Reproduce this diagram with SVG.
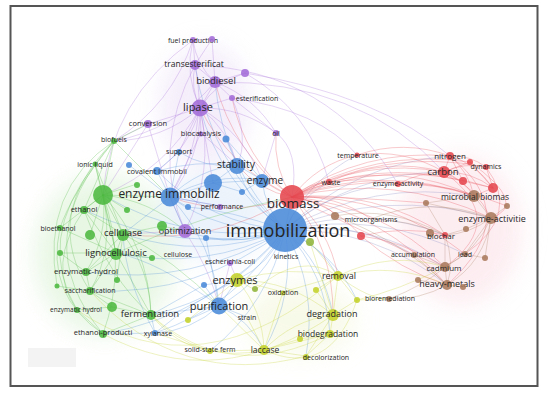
<svg xmlns="http://www.w3.org/2000/svg" width="550" height="394" viewBox="0 0 550 394">
<style>
.e{fill:none;stroke-width:0.8;stroke-opacity:0.36;stroke-linecap:round}
.eb{stroke:#4a8ad8}.er{stroke:#e5474f}.eg{stroke:#4cb840}.ep{stroke:#a36cd8}.ey{stroke:#c4d22a}.ebr{stroke:#a87a5c}.ei{stroke:#7f86bf}
.n circle{stroke:none;fill-opacity:0.88}
.cb{fill:#4a8ad8}.cr{fill:#e5474f}.cg{fill:#4cb840}.cp{fill:#a36cd8}.cy{fill:#c4d22a}.cbr{fill:#a87a5c}.co{fill:#8fb53a}
text{font-family:"Open Sans","DejaVu Sans",sans-serif;fill:#262626;text-anchor:middle;dominant-baseline:central}
</style>
<defs>
<filter id="blur" x="-50%" y="-50%" width="200%" height="200%"><feGaussianBlur stdDeviation="12"/></filter>
</defs>
<rect x="0" y="0" width="550" height="394" fill="#ffffff"/>
<g id="density" filter="url(#blur)" opacity="0.55">
<ellipse cx="105" cy="255" rx="70" ry="80" fill="#d6f0cf"/>
<ellipse cx="205" cy="105" rx="45" ry="60" fill="#ece0f7"/>
<ellipse cx="460" cy="230" rx="62" ry="75" fill="#fbdfe6"/>
<ellipse cx="300" cy="320" rx="55" ry="35" fill="#f3f6d8"/>
<ellipse cx="215" cy="215" rx="55" ry="45" fill="#dde9f8"/>
</g>
<rect x="28" y="348" width="48" height="19" fill="#f3f3f3"/>
<g id="connectors">
<path class="e ei" stroke-width="3" d="M285,230 Q376,228 447,285"/>
<path class="e ei" stroke-width="2.5" d="M285,230 Q372,220 445,267"/>
<path class="e ei" stroke-width="1.5" d="M285,230 Q386,187 491,218"/>
<path class="e ei" stroke-width="1.5" d="M285,230 Q366,204 445,235"/>
<path class="e ei" stroke-width="1.5" d="M285,230 Q373,179 474,196"/>
<path class="e ei" d="M285,230 Q354,172 444,172"/>
<path class="e ei" stroke-width="4" d="M285,230 L292,197"/>
<path class="e eb" stroke-width="3" d="M285,230 Q266,280 219,306"/>
<path class="e eb" stroke-width="2.5" d="M285,230 Q270,264 237,280"/>
<path class="e eb" stroke-width="3" d="M285,230 Q222,234 170,197"/>
<path class="e eb" stroke-width="2" d="M285,230 Q249,206 237,165"/>
<path class="e eb" stroke-width="1.5" d="M285,230 Q220,184 200,108"/>
<path class="e eb" d="M285,230 Q223,169 215,82"/>
<path class="e eb" stroke-width="1.5" d="M285,230 Q205,261 123,234"/>
<path class="e eb" stroke-width="1.5" d="M285,230 Q205,272 116,253"/>
<path class="e eb" d="M285,230 Q233,297 151,315"/>
<path class="e eb" d="M285,230 Q296,294 264,350"/>
<path class="e eb" stroke-width="1.5" d="M285,230 Q324,264 333,315"/>
<path class="e eb" stroke-width="1.5" d="M285,230 Q320,244 338,276"/>
<path class="e eb" d="M285,230 Q326,274 330,334"/>
<path class="e eb" d="M285,230 Q334,252 357,300"/>
<path class="e eb" stroke-width="1.5" d="M285,230 Q235,249 185,231"/>
<path class="e eb" d="M285,230 Q181,256 84,210"/>
<path class="e eb" stroke-width="2" d="M285,230 Q188,245 103,195"/>
<path class="e eb" stroke-width="2" d="M285,230 Q265,209 262,180"/>
<path class="e eb" d="M285,230 Q239,305 155,333"/>
<path class="e eb" d="M285,230 Q269,304 210,351"/>
<path class="e eb" d="M285,230 Q318,289 306,356"/>
<path class="e ei" d="M285,230 Q298,198 329,182"/>
<path class="e ei" d="M285,230 Q308,180 357,155"/>
<path class="e ei" d="M285,230 Q333,187 398,184"/>
<path class="e eb" d="M285,230 Q210,164 195,65"/>
<path class="e eb" d="M285,230 Q199,296 90,291"/>
<path class="e eb" d="M285,230 Q193,287 86,272"/>
<path class="e eb" d="M285,230 Q210,224 157,171"/>
<path class="e ei" d="M285,230 Q354,163 450,156"/>
<path class="e ei" d="M285,230 Q379,210 465,254"/>
<path class="e ei" d="M285,230 Q354,219 414,255"/>
<path class="e eb" d="M285,230 Q213,315 103,334"/>
<path class="e eb" d="M285,230 Q240,245 206,238"/>
<path class="e eb" d="M285,230 Q230,210 188,207"/>
<path class="e er" stroke-width="2" d="M292,197 Q364,157 444,172"/>
<path class="e er" stroke-width="1.5" d="M292,197 Q364,148 450,156"/>
<path class="e er" stroke-width="2" d="M292,197 Q383,164 474,196"/>
<path class="e er" stroke-width="1.5" d="M292,197 Q395,172 491,218"/>
<path class="e er" d="M292,197 Q384,147 486,167"/>
<path class="e er" d="M292,197 Q391,156 493,188"/>
<path class="e er" d="M292,197 Q317,164 357,155"/>
<path class="e er" stroke-width="1.5" d="M292,197 Q308,183 329,182"/>
<path class="e er" d="M292,197 Q343,171 398,184"/>
<path class="e er" stroke-width="1.5" d="M292,197 Q375,189 445,235"/>
<path class="e er" stroke-width="1.5" d="M292,197 Q385,213 447,285"/>
<path class="e er" stroke-width="1.5" d="M292,197 Q381,205 445,267"/>
<path class="e er" stroke-width="1.5" d="M292,197 Q259,191 237,165"/>
<path class="e er" stroke-width="1.5" d="M292,197 L262,180"/>
<path class="e er" d="M292,197 Q230,169 200,108"/>
<path class="e er" d="M292,197 Q273,168 276,133"/>
<path class="e er" d="M292,197 Q244,158 232,98"/>
<path class="e er" stroke-width="2" d="M292,197 Q231,219 170,197"/>
<path class="e er" d="M292,197 Q214,246 123,234"/>
<path class="e er" d="M292,197 Q375,148 470,162"/>
<path class="e er" d="M292,197 Q375,158 463,181"/>
<path class="e er" d="M292,197 Q336,194 371,219"/>
<path class="e er" d="M292,197 Q389,194 465,254"/>
<path class="e er" d="M292,197 Q334,204 361,236"/>
<path class="e er" d="M292,197 Q329,228 338,276"/>
<path class="e er" d="M292,197 Q233,153 215,82"/>
<path class="e er" d="M292,197 Q334,249 333,315"/>
<path class="e er" d="M292,197 Q401,163 507,206"/>
<path class="e er" d="M292,197 Q340,196 426,203"/>
<path class="e er" d="M292,197 Q330,204 335,216"/>
<path class="e er" d="M292,197 Q360,230 414,255"/>
<path class="e er" stroke-width="1.5" d="M444,172 L450,156"/>
<path class="e er" d="M444,172 L470,162"/>
<path class="e er" stroke-width="1.5" d="M444,172 Q464,162 486,167"/>
<path class="e er" stroke-width="1.5" d="M444,172 Q471,171 493,188"/>
<path class="e er" stroke-width="1.5" d="M444,172 Q463,179 474,196"/>
<path class="e er" d="M450,156 Q470,155 486,167"/>
<path class="e er" d="M450,156 Q477,164 493,188"/>
<path class="e er" d="M450,156 Q469,172 474,196"/>
<path class="e er" d="M486,167 L493,188"/>
<path class="e er" d="M470,162 L493,188"/>
<path class="e er" d="M463,181 L493,188"/>
<path class="e er" d="M463,181 L450,156"/>
<path class="e ebr" stroke-width="1.5" d="M474,196 L491,218"/>
<path class="e er" d="M474,196 L493,188"/>
<path class="e er" d="M444,172 Q476,187 491,218"/>
<path class="e er" d="M398,184 Q420,172 444,172"/>
<path class="e er" d="M398,184 Q436,183 474,196"/>
<path class="e er" d="M357,155 Q404,148 444,172"/>
<path class="e er" d="M357,155 Q404,139 450,156"/>
<path class="e er" d="M329,182 Q385,156 444,172"/>
<path class="e er" d="M329,182 Q404,163 474,196"/>
<path class="e er" d="M450,156 Q525,215 447,285"/>
<path class="e er" d="M444,172 Q510,220 445,267"/>
<path class="e er" d="M486,167 Q522,215 465,254"/>
<path class="e er" d="M470,162 Q530,205 491,218"/>
<path class="e ebr" d="M491,218 Q470,234 445,235"/>
<path class="e ebr" d="M491,218 Q478,250 445,267"/>
<path class="e ebr" d="M491,218 Q485,262 447,285"/>
<path class="e ebr" d="M491,218 L465,254"/>
<path class="e ebr" d="M491,218 L485,258"/>
<path class="e ebr" d="M491,218 L507,206"/>
<path class="e ebr" d="M491,218 L466,229"/>
<path class="e ebr" stroke-width="1.5" d="M445,235 L445,267"/>
<path class="e ebr" stroke-width="1.5" d="M445,267 L447,285"/>
<path class="e ebr" d="M445,267 L465,254"/>
<path class="e ebr" d="M414,255 L445,267"/>
<path class="e ebr" d="M414,255 L447,285"/>
<path class="e ebr" d="M445,235 Q455,262 447,285"/>
<path class="e ebr" d="M371,219 Q410,220 445,235"/>
<path class="e ebr" d="M371,219 Q430,195 491,218"/>
<path class="e ebr" d="M426,203 L491,218"/>
<path class="e ebr" d="M426,203 L445,235"/>
<path class="e ebr" d="M426,203 L474,196"/>
<path class="e er" d="M361,236 Q400,240 445,267"/>
<path class="e er" d="M361,236 Q400,270 447,285"/>
<path class="e er" d="M361,236 Q405,225 445,235"/>
<path class="e ebr" d="M389,299 Q420,300 447,285"/>
<path class="e ebr" d="M389,299 Q425,285 445,267"/>
<path class="e ebr" d="M418,280 L447,285"/>
<path class="e ebr" d="M447,285 L463,287"/>
<path class="e ebr" d="M335,216 Q390,205 445,235"/>
<path class="e ebr" d="M335,216 Q400,240 447,285"/>
<path class="e ey" d="M338,276 Q394,261 447,285"/>
<path class="e ey" d="M338,276 Q390,250 445,267"/>
<path class="e ey" d="M357,300 Q400,290 445,267"/>
<path class="e ebr" d="M465,254 L485,258"/>
<path class="e ebr" d="M466,229 L445,235"/>
<path class="e ep" stroke-width="1.5" d="M200,108 L215,82"/>
<path class="e ep" stroke-width="1.5" d="M200,108 Q190,88 195,65"/>
<path class="e ep" d="M200,108 Q184,75 193,40"/>
<path class="e ep" stroke-width="1.5" d="M215,82 L195,65"/>
<path class="e ep" d="M215,82 Q196,65 193,40"/>
<path class="e ep" d="M195,65 L193,40"/>
<path class="e ep" d="M215,82 L245,73"/>
<path class="e ep" d="M200,108 Q216,82 245,73"/>
<path class="e ep" d="M193,40 L212,39"/>
<path class="e ep" d="M215,82 L212,39"/>
<path class="e ep" d="M195,65 L212,39"/>
<path class="e ep" d="M200,108 L232,98"/>
<path class="e ep" d="M215,82 L232,98"/>
<path class="e ep" d="M200,108 L148,124"/>
<path class="e ep" d="M200,108 L201,133"/>
<path class="e ep" stroke-width="1.5" d="M200,108 Q229,130 237,165"/>
<path class="e ep" d="M200,108 Q244,133 262,180"/>
<path class="e ep" stroke-width="1.5" d="M200,108 Q201,158 170,197"/>
<path class="e ep" d="M200,108 L179,152"/>
<path class="e ep" d="M200,108 Q190,147 157,171"/>
<path class="e ep" d="M200,108 L213,183"/>
<path class="e ep" d="M200,108 Q242,107 276,133"/>
<path class="e ep" d="M200,108 Q167,169 103,195"/>
<path class="e ep" d="M200,108 Q163,140 114,141"/>
<path class="e ep" d="M215,82 Q175,130 114,141"/>
<path class="e ep" d="M148,124 L114,141"/>
<path class="e ep" d="M148,124 L103,195"/>
<path class="e ep" d="M148,124 L170,197"/>
<path class="e ep" d="M215,82 Q255,97 276,133"/>
<path class="e ep" d="M232,98 L276,133"/>
<path class="e ep" d="M193,40 Q172,105 114,141"/>
<path class="e ep" d="M195,65 Q210,130 170,197"/>
<path class="e ep" d="M195,65 Q150,150 185,231"/>
<path class="e ep" d="M200,108 Q215,172 185,231"/>
<path class="e ep" d="M193,40 Q110,100 103,195"/>
<path class="e ep" d="M245,73 Q310,110 329,182"/>
<path class="e ep" d="M232,98 Q320,110 357,155"/>
<path class="e ep" d="M215,82 Q360,80 444,172"/>
<path class="e ep" d="M195,65 Q330,70 398,184"/>
<path class="e ep" d="M245,73 Q380,95 450,156"/>
<path class="e ep" d="M276,133 L262,180"/>
<path class="e ep" d="M276,133 Q300,150 292,197"/>
<path class="e ep" d="M201,133 L237,165"/>
<path class="e ep" d="M201,133 L170,197"/>
<path class="e ep" d="M185,231 L170,197"/>
<path class="e ep" d="M185,231 L123,234"/>
<path class="e ep" d="M185,231 Q210,270 219,306"/>
<path class="e ep" d="M220,206 L170,197"/>
<path class="e ep" d="M230,263 L219,306"/>
<path class="e ep" d="M230,263 L237,280"/>
<path class="e ep" d="M232,98 Q250,140 237,165"/>
<path class="e eb" stroke-width="1.5" d="M170,197 Q198,169 237,165"/>
<path class="e eb" stroke-width="1.5" d="M170,197 L213,183"/>
<path class="e eb" d="M170,197 L157,171"/>
<path class="e eb" d="M170,197 L179,152"/>
<path class="e eb" stroke-width="1.5" d="M170,197 Q213,172 262,180"/>
<path class="e eb" d="M170,197 L220,206"/>
<path class="e eb" d="M170,197 L188,207"/>
<path class="e eg" stroke-width="2" d="M170,197 L103,195"/>
<path class="e eb" d="M170,197 L123,234"/>
<path class="e eb" d="M170,197 L185,231"/>
<path class="e eb" stroke-width="1.5" d="M170,197 Q214,243 219,306"/>
<path class="e eb" d="M237,165 L262,180"/>
<path class="e eb" d="M237,165 L213,183"/>
<path class="e eb" d="M237,165 Q206,169 179,152"/>
<path class="e eb" d="M237,165 L226,139"/>
<path class="e eb" d="M237,165 Q195,160 157,171"/>
<path class="e eb" d="M213,183 L262,180"/>
<path class="e eb" d="M213,183 L242,192"/>
<path class="e eb" d="M262,180 L242,192"/>
<path class="e eb" stroke-width="1.5" d="M219,306 L237,280"/>
<path class="e eb" stroke-width="1.5" d="M219,306 Q192,331 155,333"/>
<path class="e eb" d="M219,306 L204,285"/>
<path class="e eb" d="M219,306 L151,315"/>
<path class="e eb" d="M219,306 L188,320"/>
<path class="e eb" d="M219,306 Q250,320 264,350"/>
<path class="e eb" d="M219,306 L247,317"/>
<path class="e eb" d="M155,333 L151,315"/>
<path class="e eb" d="M155,333 Q125,280 123,234"/>
<path class="e eb" d="M155,333 Q195,300 237,280"/>
<path class="e eb" d="M129,165 L170,197"/>
<path class="e eb" d="M226,139 L262,180"/>
<path class="e eb" d="M179,152 L157,171"/>
<path class="e eb" d="M219,306 Q158,261 116,253"/>
<path class="e eb" d="M237,280 L204,285"/>
<path class="e eb" d="M206,238 L219,306"/>
<path class="e eb" d="M204,285 L151,315"/>
<path class="e eb" d="M155,333 L103,334"/>
<path class="e eg" stroke-width="1.5" d="M103,195 L84,210"/>
<path class="e eg" d="M103,195 L60,228"/>
<path class="e eg" stroke-width="1.5" d="M103,195 L123,234"/>
<path class="e eg" stroke-width="1.5" d="M103,195 L116,253"/>
<path class="e eg" d="M103,195 Q108,237 86,272"/>
<path class="e eg" d="M103,195 Q115,250 90,291"/>
<path class="e eg" d="M103,195 Q149,246 151,315"/>
<path class="e eg" d="M103,195 Q128,265 103,334"/>
<path class="e eg" d="M103,195 L114,141"/>
<path class="e eg" d="M103,195 L95,164"/>
<path class="e eg" d="M103,195 L137,184"/>
<path class="e eg" d="M103,195 L90,235"/>
<path class="e eg" d="M103,195 L127,210"/>
<path class="e eg" d="M103,195 Q150,200 185,231"/>
<path class="e eg" stroke-width="1.5" d="M123,234 L116,253"/>
<path class="e eg" d="M123,234 L84,210"/>
<path class="e eg" d="M123,234 L162,226"/>
<path class="e eg" d="M123,234 L86,272"/>
<path class="e eg" d="M123,234 Q150,270 151,315"/>
<path class="e eg" d="M116,253 L86,272"/>
<path class="e eg" d="M116,253 L90,291"/>
<path class="e eg" d="M116,253 L151,315"/>
<path class="e eg" d="M116,253 L84,210"/>
<path class="e eg" d="M116,253 L60,228"/>
<path class="e eg" d="M116,253 L152,258"/>
<path class="e eg" d="M116,253 L60,253"/>
<path class="e eg" d="M86,272 L90,291"/>
<path class="e eg" d="M77,310 L112,307"/>
<path class="e eg" d="M151,315 L103,334"/>
<path class="e eg" d="M151,315 L112,307"/>
<path class="e eg" d="M151,315 L90,291"/>
<path class="e eg" d="M114,141 Q71,194 60,228"/>
<path class="e eg" d="M114,141 Q25,240 103,334"/>
<path class="e eg" d="M95,164 Q35,240 77,310"/>
<path class="e eg" d="M114,141 Q40,215 90,291"/>
<path class="e eg" d="M84,210 Q45,265 77,310"/>
<path class="e eg" d="M60,228 Q45,295 103,334"/>
<path class="e eg" d="M114,141 Q40,190 57,286"/>
<path class="e eg" d="M114,141 L148,124"/>
<path class="e eg" d="M114,141 L170,197"/>
<path class="e eg" d="M84,210 Q110,280 151,315"/>
<path class="e eg" d="M123,234 Q175,260 219,306"/>
<path class="e eg" d="M162,226 L185,231"/>
<path class="e eg" d="M77,310 L103,334"/>
<path class="e eg" d="M114,141 L84,210"/>
<path class="e eg" d="M95,164 L123,234"/>
<path class="e eg" d="M95,164 L116,253"/>
<path class="e eg" d="M116,253 Q200,215 292,197"/>
<path class="e eg" d="M123,234 L117,280"/>
<path class="e eg" d="M112,307 L90,291"/>
<path class="e eg" d="M60,253 L86,272"/>
<path class="e eg" d="M57,286 L90,291"/>
<path class="e ey" stroke-width="1.5" d="M237,280 Q291,280 333,315"/>
<path class="e ey" stroke-width="1.5" d="M237,280 Q263,310 264,350"/>
<path class="e ey" d="M237,280 Q290,265 338,276"/>
<path class="e ey" d="M237,280 L255,290"/>
<path class="e ey" d="M237,280 L283,292"/>
<path class="e ey" stroke-width="1.5" d="M264,350 Q292,320 333,315"/>
<path class="e ey" d="M264,350 L306,356"/>
<path class="e ey" d="M264,350 L330,334"/>
<path class="e ey" d="M264,350 L210,351"/>
<path class="e ey" d="M264,350 L247,317"/>
<path class="e ey" d="M264,350 L283,292"/>
<path class="e ey" d="M264,350 L300,339"/>
<path class="e ey" stroke-width="1.5" d="M333,315 L330,334"/>
<path class="e ey" stroke-width="1.5" d="M333,315 L338,276"/>
<path class="e ey" d="M333,315 L357,300"/>
<path class="e ey" d="M333,315 L306,356"/>
<path class="e ey" d="M333,315 L316,290"/>
<path class="e ey" d="M338,276 L316,290"/>
<path class="e ey" d="M338,276 L357,300"/>
<path class="e ey" d="M330,334 L306,356"/>
<path class="e ey" d="M330,334 L300,339"/>
<path class="e ey" d="M210,351 Q175,345 151,315"/>
<path class="e ey" d="M210,351 L155,333"/>
<path class="e ey" d="M264,350 Q200,365 151,315"/>
<path class="e ey" d="M333,315 Q218,395 103,334"/>
<path class="e ey" d="M338,276 Q200,395 77,310"/>
<path class="e ey" d="M330,334 Q230,385 151,315"/>
<path class="e ey" d="M306,356 Q180,390 90,291"/>
<path class="e ey" d="M188,320 L237,280"/>
<path class="e ey" d="M310,242 L338,276"/>
<path class="e ey" d="M310,242 L333,315"/>
<path class="e ey" d="M338,276 L283,292"/>
<path class="e ey" d="M338,276 Q370,300 389,299"/>
<path class="e ey" d="M357,300 L389,299"/>
<path class="e ey" d="M264,350 Q330,380 357,300"/>
<path class="e ey" d="M219,306 L264,350"/>
<path class="e ey" d="M338,276 Q300,250 255,290"/>
</g>
<g id="nodes">
<g id="n-fuel-production" class="n"><circle class="cp" cx="193" cy="40" r="3"/><text x="193" y="40" font-size="7">fuel production</text></g>
<g id="n-p1" class="n"><circle class="cp" cx="212" cy="39" r="3"/></g>
<g id="n-transesterificat" class="n"><circle class="cp" cx="195" cy="65" r="5"/><text x="194" y="63" font-size="8.5">transesterificat</text></g>
<g id="n-p2" class="n"><circle class="cp" cx="245" cy="73" r="4"/></g>
<g id="n-biodiesel" class="n"><circle class="cp" cx="215" cy="82" r="6"/><text x="216" y="80" font-size="9.5">biodiesel</text></g>
<g id="n-esterification" class="n"><circle class="cp" cx="232" cy="98" r="3"/><text x="257" y="98" font-size="7">esterification</text></g>
<g id="n-lipase" class="n"><circle class="cp" cx="200" cy="108" r="8.5"/><text x="198" y="106" font-size="11">lipase</text></g>
<g id="n-conversion" class="n"><circle class="cp" cx="148" cy="124" r="4"/><text x="148" y="123" font-size="7.5">conversion</text></g>
<g id="n-biocatalysis" class="n"><circle class="cp" cx="201" cy="134" r="2.5"/><text x="201" y="133" font-size="7.5">biocatalysis</text></g>
<g id="n-oil" class="n"><circle class="cp" cx="276" cy="133" r="3"/><text x="276" y="133" font-size="7">oil</text></g>
<g id="n-optimization" class="n"><circle class="cp" cx="185" cy="231" r="7"/><text x="185" y="230" font-size="9">optimization</text></g>
<g id="n-performance" class="n"><circle class="cp" cx="220" cy="207" r="3"/><text x="222" y="206.5" font-size="7">performance</text></g>
<g id="n-escherichia-coli" class="n"><circle class="cp" cx="230" cy="263" r="3"/><text x="230" y="261" font-size="7">escherichia-coli</text></g>
<g id="n-support" class="n"><circle class="cb" cx="179" cy="152" r="3"/><text x="179" y="151" font-size="7">support</text></g>
<g id="n-b1" class="n"><circle class="cb" cx="226" cy="139" r="3.5"/></g>
<g id="n-b2" class="n"><circle class="cb" cx="129" cy="165" r="3"/></g>
<g id="n-covalent-immobil" class="n"><circle class="cb" cx="157" cy="171" r="4"/><text x="157" y="171" font-size="7.5">covalent immobil</text></g>
<g id="n-stability" class="n"><circle class="cb" cx="237" cy="166" r="8"/><text x="236" y="164" font-size="10.5">stability</text></g>
<g id="n-enzyme" class="n"><circle class="cb" cx="262" cy="181" r="7"/><text x="265" y="180" font-size="10">enzyme</text></g>
<g id="n-b3" class="n"><circle class="cb" cx="213" cy="183" r="9"/></g>
<g id="n-b4" class="n"><circle class="cb" cx="242" cy="192" r="3"/></g>
<g id="n-b5" class="n"><circle class="cb" cx="188" cy="207" r="3"/></g>
<g id="n-b6" class="n"><circle class="cb" cx="206" cy="238" r="3"/></g>
<g id="n-enzyme-immobiliz" class="n"><circle class="cb" cx="170" cy="197" r="9.5"/><text x="169" y="193.5" font-size="12">enzyme immobiliz</text></g>
<g id="n-saccharomyces" class="n"><circle class="cb" cx="204" cy="285" r="3"/></g>
<g id="n-purification" class="n"><circle class="cb" cx="219" cy="306" r="8.5"/><text x="219" y="305" font-size="11">purification</text></g>
<g id="n-xylanase" class="n"><circle class="cb" cx="155" cy="333" r="3"/><text x="158" y="333" font-size="7">xylanase</text></g>
<g id="n-biofuels" class="n"><circle class="cg" cx="114" cy="141" r="3"/><text x="114" y="139" font-size="7">biofuels</text></g>
<g id="n-ionic-liquid" class="n"><circle class="cg" cx="95" cy="164" r="2.5"/><text x="95" y="164" font-size="7">ionic liquid</text></g>
<g id="n-g-big" class="n"><circle class="cg" cx="103" cy="195" r="10"/></g>
<g id="n-g1" class="n"><circle class="cg" cx="137" cy="185" r="3"/></g>
<g id="n-ethanol" class="n"><circle class="cg" cx="84" cy="210" r="4"/><text x="84" y="209" font-size="7.5">ethanol</text></g>
<g id="n-g2" class="n"><circle class="cg" cx="127" cy="210" r="3"/></g>
<g id="n-bioethanol" class="n"><circle class="cg" cx="60" cy="228" r="3"/><text x="58" y="228" font-size="7">bioethanol</text></g>
<g id="n-g3" class="n"><circle class="cg" cx="90" cy="235" r="5"/></g>
<g id="n-cellulase" class="n"><circle class="cg" cx="123" cy="235" r="6"/><text x="123" y="232" font-size="9.5">cellulase</text></g>
<g id="n-g4" class="n"><circle class="cg" cx="162" cy="226" r="5"/></g>
<g id="n-lignocellulosic" class="n"><circle class="cg" cx="116" cy="254" r="6"/><text x="116" y="252" font-size="9.5">lignocellulosic</text></g>
<g id="n-cellulose" class="n"><circle class="cg" cx="152" cy="258" r="3"/><text x="178" y="254" font-size="7">cellulose</text></g>
<g id="n-g5" class="n"><circle class="cg" cx="60" cy="253" r="3"/></g>
<g id="n-enzymatic-hydrol" class="n"><circle class="cg" cx="86" cy="272" r="4"/><text x="86" y="270" font-size="8">enzymatic-hydrol</text></g>
<g id="n-g6" class="n"><circle class="cg" cx="117" cy="280" r="3"/></g>
<g id="n-saccharification" class="n"><circle class="cg" cx="90" cy="291" r="4"/><text x="90" y="290" font-size="7">saccharification</text></g>
<g id="n-g7" class="n"><circle class="cg" cx="57" cy="286" r="2.5"/></g>
<g id="n-enzymatic-hydrol2" class="n"><circle class="cg" cx="77" cy="310" r="3"/><text x="76" y="309" font-size="6.5">enzymatic hydrol</text></g>
<g id="n-g8" class="n"><circle class="cg" cx="112" cy="307" r="5"/></g>
<g id="n-fermentation" class="n"><circle class="cg" cx="151" cy="315" r="5"/><text x="150" y="313" font-size="9.5">fermentation</text></g>
<g id="n-ethanol-producti" class="n"><circle class="cg" cx="103" cy="334" r="4"/><text x="103" y="332" font-size="7.5">ethanol-producti</text></g>
<g id="n-g9" class="n"><circle class="co" cx="310" cy="242" r="4"/></g>
<g id="n-g10" class="n"><circle class="co" cx="255" cy="289" r="3"/></g>
<g id="n-kinetics" class="n"><text x="286" y="256" font-size="7">kinetics</text></g>
<g id="n-enzymes" class="n"><circle class="cy" cx="237" cy="280" r="7"/><text x="235" y="279" font-size="11">enzymes</text></g>
<g id="n-oxidation" class="n"><circle class="cy" cx="283" cy="293" r="2.5"/><text x="283" y="292" font-size="7">oxidation</text></g>
<g id="n-y2" class="n"><circle class="cy" cx="316" cy="290" r="3"/></g>
<g id="n-removal" class="n"><circle class="cy" cx="338" cy="276" r="5"/><text x="339" y="275" font-size="9">removal</text></g>
<g id="n-strain" class="n"><text x="247" y="317" font-size="7">strain</text></g>
<g id="n-y3" class="n"><circle class="cy" cx="188" cy="320" r="3"/></g>
<g id="n-degradation" class="n"><circle class="cy" cx="333" cy="315" r="6"/><text x="332" y="313" font-size="9">degradation</text></g>
<g id="n-bioremediation" class="n"><circle class="cy" cx="357" cy="300" r="3"/><circle class="cbr" cx="389" cy="299" r="3"/><text x="390" y="298" font-size="7">bioremediation</text></g>
<g id="n-biodegradation" class="n"><circle class="cy" cx="330" cy="334" r="4"/><text x="328" y="333" font-size="8.5">biodegradation</text></g>
<g id="n-y4" class="n"><circle class="cy" cx="300" cy="339" r="3"/></g>
<g id="n-laccase" class="n"><circle class="cy" cx="264" cy="350" r="5"/><text x="265" y="349" font-size="8.5">laccase</text></g>
<g id="n-solid-state-ferm" class="n"><circle class="cy" cx="210" cy="351" r="3"/><text x="210" y="349" font-size="7">solid-state ferm</text></g>
<g id="n-decolorization" class="n"><circle class="cy" cx="306" cy="357" r="3"/><text x="326" y="357" font-size="7">decolorization</text></g>
<g id="n-temperature" class="n"><circle class="cr" cx="357" cy="155" r="2.5"/><text x="358" y="155" font-size="7">temperature</text></g>
<g id="n-waste" class="n"><circle class="cr" cx="329" cy="182" r="3"/><text x="331" y="182" font-size="7">waste</text></g>
<g id="n-enzyme-activity" class="n"><circle class="cr" cx="398" cy="184" r="3"/><text x="398" y="183" font-size="7">enzyme-activity</text></g>
<g id="n-nitrogen" class="n"><circle class="cr" cx="450" cy="156" r="4"/><text x="450" y="155" font-size="8">nitrogen</text></g>
<g id="n-r1" class="n"><circle class="cr" cx="470" cy="162" r="3"/></g>
<g id="n-dynamics" class="n"><circle class="cr" cx="486" cy="167" r="3"/><text x="486" y="166" font-size="7">dynamics</text></g>
<g id="n-carbon" class="n"><circle class="cr" cx="444" cy="172" r="6"/><text x="443" y="171" font-size="9.5">carbon</text></g>
<g id="n-r2" class="n"><circle class="cr" cx="463" cy="181" r="4"/></g>
<g id="n-r3" class="n"><circle class="cr" cx="493" cy="188" r="5"/></g>
<g id="n-microbial-biomas" class="n"><circle class="cbr" cx="474" cy="196" r="6"/><text x="475" y="196" font-size="8.5">microbial biomas</text></g>
<g id="n-biomass" class="n"><circle class="cr" cx="292" cy="197" r="12"/><text x="293" y="203" font-size="13.5">biomass</text></g>
<g id="n-br1" class="n"><circle class="cbr" cx="335" cy="216" r="4"/></g>
<g id="n-br2" class="n"><circle class="cbr" cx="426" cy="203" r="3"/></g>
<g id="n-microorganisms" class="n"><text x="371" y="219" font-size="7">microorganisms</text></g>
<g id="n-enzyme-activitie" class="n"><circle class="cbr" cx="491" cy="218" r="6"/><text x="492" y="218" font-size="9">enzyme-activitie</text></g>
<g id="n-br3" class="n"><circle class="cbr" cx="507" cy="206" r="3"/></g>
<g id="n-r4" class="n"><circle class="cr" cx="361" cy="236" r="4"/></g>
<g id="n-biochar" class="n"><circle class="cbr" cx="430" cy="233" r="4"/><circle class="cr" cx="445" cy="235" r="3"/><text x="441" y="235" font-size="8">biochar</text></g>
<g id="n-br4" class="n"><circle class="cbr" cx="466" cy="229" r="3"/></g>
<g id="n-accumulation" class="n"><circle class="cbr" cx="414" cy="255" r="3"/><text x="413" y="254" font-size="7">accumulation</text></g>
<g id="n-lead" class="n"><circle class="cbr" cx="465" cy="254" r="3"/><text x="465" y="254" font-size="7">lead</text></g>
<g id="n-br5" class="n"><circle class="cbr" cx="485" cy="258" r="3"/></g>
<g id="n-cadmium" class="n"><circle class="cbr" cx="445" cy="267" r="5"/><text x="444" y="267" font-size="8">cadmium</text></g>
<g id="n-heavy-metals" class="n"><circle class="cbr" cx="447" cy="285" r="5"/><text x="447" y="283" font-size="9">heavy-metals</text></g>
<g id="n-br6" class="n"><circle class="cbr" cx="418" cy="280" r="3"/></g>
<g id="n-br7" class="n"><circle class="cbr" cx="463" cy="287" r="3"/></g>
<g id="n-immobilization" class="n"><circle class="cb" cx="285" cy="230" r="22" fill-opacity="0.85"/><text x="288" y="230" font-size="18">immobilization</text></g>
</g>
<rect x="10.5" y="6" width="527" height="380" fill="none" stroke="#555" stroke-width="2"/>
</svg>
